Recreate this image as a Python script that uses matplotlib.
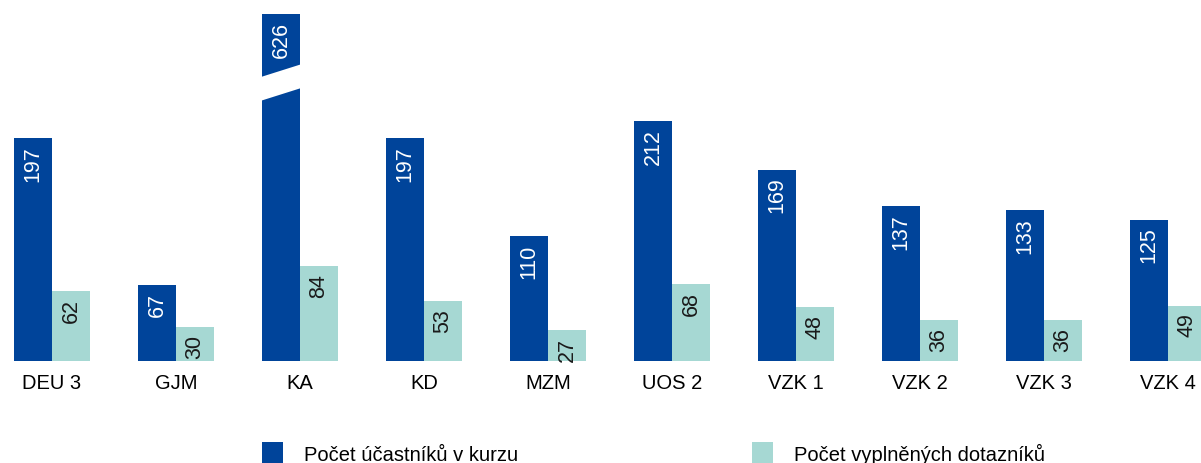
import numpy as np
import matplotlib
matplotlib.use('Agg')
import matplotlib.pyplot as plt
from matplotlib.patches import Polygon, Patch

plt.rcParams['font.family'] = ['Liberation Sans', 'DejaVu Sans']

kurzy = ['DEU 3', 'GJM', 'KA', 'KD', 'MZM', 'UOS 2', 'VZK 1', 'VZK 2', 'VZK 3', 'VZK 4']
ucastnici = [197, 67, 626, 197, 110, 212, 169, 137, 133, 125]
dotazniky = [62, 30, 84, 53, 27, 68, 48, 36, 36, 49]

dark = '#00449a'
light = '#a6d8d3'

W, H = 1201, 464
fig = plt.figure(figsize=(W/100, H/100), dpi=100)
base = 362   # baseline in px from top
top = 15     # axes top in px from top
ax = fig.add_axes([0, (H-base)/H, 1, (base-top)/H])

pxu = 1.132  # px per unit
ymax = (base-top)/pxu
ax.set_ylim(0, ymax)
ax.set_xlim(-52/124, (W-52)/124)

x = np.arange(len(kurzy))
bw = 38/124
b1 = ax.bar(x - bw/2, ucastnici, bw, color=dark)
b2 = ax.bar(x + bw/2, dotazniky, bw, color=light)

off = 7/pxu
for xi, v in zip(x, ucastnici):
    yv = min(v, ymax)
    ax.text(xi - bw/2, yv - off, str(v), rotation=90, ha='center', va='top',
            color='white', fontsize=15.5)
for xi, v in zip(x, dotazniky):
    ax.text(xi + bw/2, v - off, str(v), rotation=90, ha='center', va='top',
            color='#1a1a1a', fontsize=15.5)

# break on the KA bar
i = kurzy.index('KA')
xl, xr = i - bw - 0.02, i + 0.02
gap = Polygon([(xl, 250.5), (xr, 262.5), (xr, 241.5), (xl, 229.5)],
              closed=True, facecolor='white', edgecolor='none', zorder=3)
ax.add_patch(gap)

ax.set_xticks(x)
ax.set_xticklabels(kurzy, fontsize=14.5)
ax.tick_params(axis='x', length=0, pad=9)
ax.set_yticks([])
for s in ax.spines.values():
    s.set_visible(False)

leg_items = [('Počet účastníků v kurzu', dark, 262),
             ('Počet vyplněných dotazníků', light, 752)]
for lab, col, px in leg_items:
    lg = fig.legend(handles=[Patch(facecolor=col, label=lab)], loc='lower left',
                    bbox_to_anchor=(px/W, -1/H), frameon=False, fontsize=14.5,
                    handlelength=1.05, handleheight=1.3, handletextpad=1.05,
                    borderpad=0, borderaxespad=0)

fig.savefig('out.png', dpi=100)
